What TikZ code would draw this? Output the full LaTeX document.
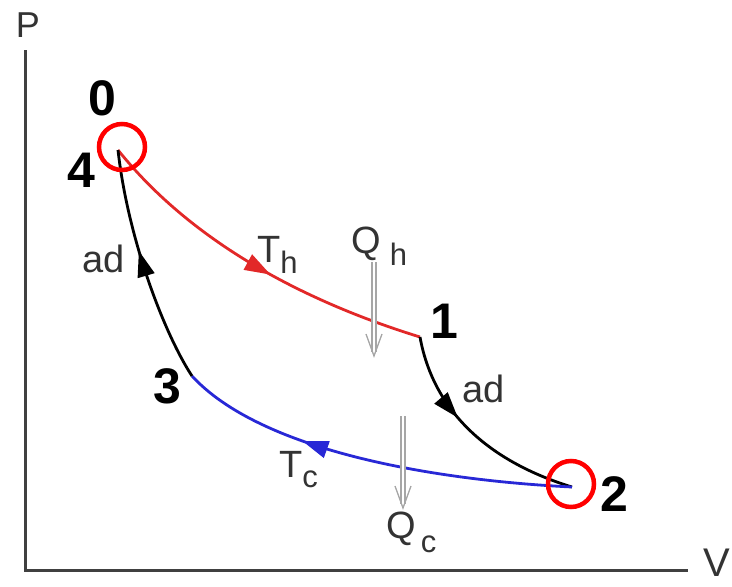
\documentclass[tikz,border=0pt]{standalone}
\usepackage{fontspec}
\setmainfont{Liberation Sans}
\usepackage{xcolor}
\usetikzlibrary{calc, arrows.meta, decorations.markings, positioning}

\definecolor{hotred}{RGB}{226,40,40}
\definecolor{coldblue}{RGB}{40,40,214}
\newcommand{\lowsub}[2]{\raisebox{-#1pt}{\fontsize{31}{31}\selectfont #2}}

\tikzset{
  midarrow/.style={postaction={decorate}, decoration={markings,
      mark=at position #1 with {\arrow{Triangle[length=26pt,width=17pt]}}}},
  proc/.style={line width=2.8pt},
  lbl/.style={font=\fontsize{38}{40}\selectfont, text=black!80, inner sep=0pt, anchor=base west},
  stnum/.style={font=\fontsize{50}{50}\selectfont\bfseries, inner sep=0pt},
  heat/.style={draw=gray!70, line width=1.3pt, double=white, double distance=2.5pt},
  barb/.style={draw=gray!70, line width=1.3pt},
  ring/.style={circle, draw=red, line width=4.5pt, minimum size=46pt, inner sep=0pt},
}

\begin{document}
\begin{tikzpicture}[x=1pt, y=-1pt]
  \useasboundingbox (0,0) rectangle (732,587);
  % Axes
  \coordinate (ytop) at (25,50);
  \coordinate (orig) at (25,570);
  \coordinate (xend) at (688,570);
  \draw[line width=3pt, black!75] (ytop) -- (orig) -- (xend);
  \node[font=\fontsize{36}{36}\selectfont, text=black!80] (plbl) at (28,25) {P};
  \node[font=\fontsize{40}{40}\selectfont, text=black!80] (vlbl) at (717,563) {V};
  % State points
  \coordinate (s4) at (118,150);
  \coordinate (s1) at (420,337);
  \coordinate (s2) at (572,487);
  \coordinate (s3) at (192,376);
  % Isotherms and adiabats
  \draw[proc, hotred, midarrow=0.55] (s4) .. controls (190,240) and (300,300) .. (s1);
  \draw[proc, black, midarrow=0.4] (s1) .. controls (435,420) and (500,465) .. (s2);
  \draw[proc, coldblue, midarrow=0.68] (s2) .. controls (430,480) and (260,450) .. (s3);
  \draw[proc, black, midarrow=0.57] (s3) .. controls (165,335) and (128,240) .. (s4);
  % Process labels
  \node[lbl] (th) at (257,262) {T\lowsub{11}{h}};
  \node[lbl] (tc) at (279,477) {T\lowsub{10}{c}};
  \node[lbl] (adl) at (82,272) {ad};
  \node[lbl] (adr) at (462,402) {ad};
  % Heat flows
  \node[lbl] (qh) at (351,253) {Q\hspace{9pt}\lowsub{12}{h}};
  \node[lbl] (qc) at (386,538) {Q\hspace{5pt}\lowsub{14}{c}};
  \coordinate (qhtop) at (374,262);
  \coordinate (qhend) at (374,356);
  \coordinate (qctop) at (403,416);
  \coordinate (qcend) at (403,508);
  \draw[heat] (qhtop) -- ($(qhend)+(0,-4)$);
  \draw[barb] ($(qhend)+(-8,-22)$) -- (qhend) -- ($(qhend)+(8,-22)$);
  \draw[heat] (qctop) -- ($(qcend)+(0,-4)$);
  \draw[barb] ($(qcend)+(-8,-22)$) -- (qcend) -- ($(qcend)+(8,-22)$);
  % Numbers and rings
  \node[stnum] (n0) at (102,98) {0};
  \node[stnum] (n4) at (81,170) {4};
  \node[stnum] (n3) at (167,386) {3};
  \node[stnum] (n1) at (444,321) {1};
  \node[stnum] (n2) at (614,494) {2};
  \node[ring] (r4) at (122,147) {};
  \node[ring] (r2) at (571,484) {};
\end{tikzpicture}
\end{document}
